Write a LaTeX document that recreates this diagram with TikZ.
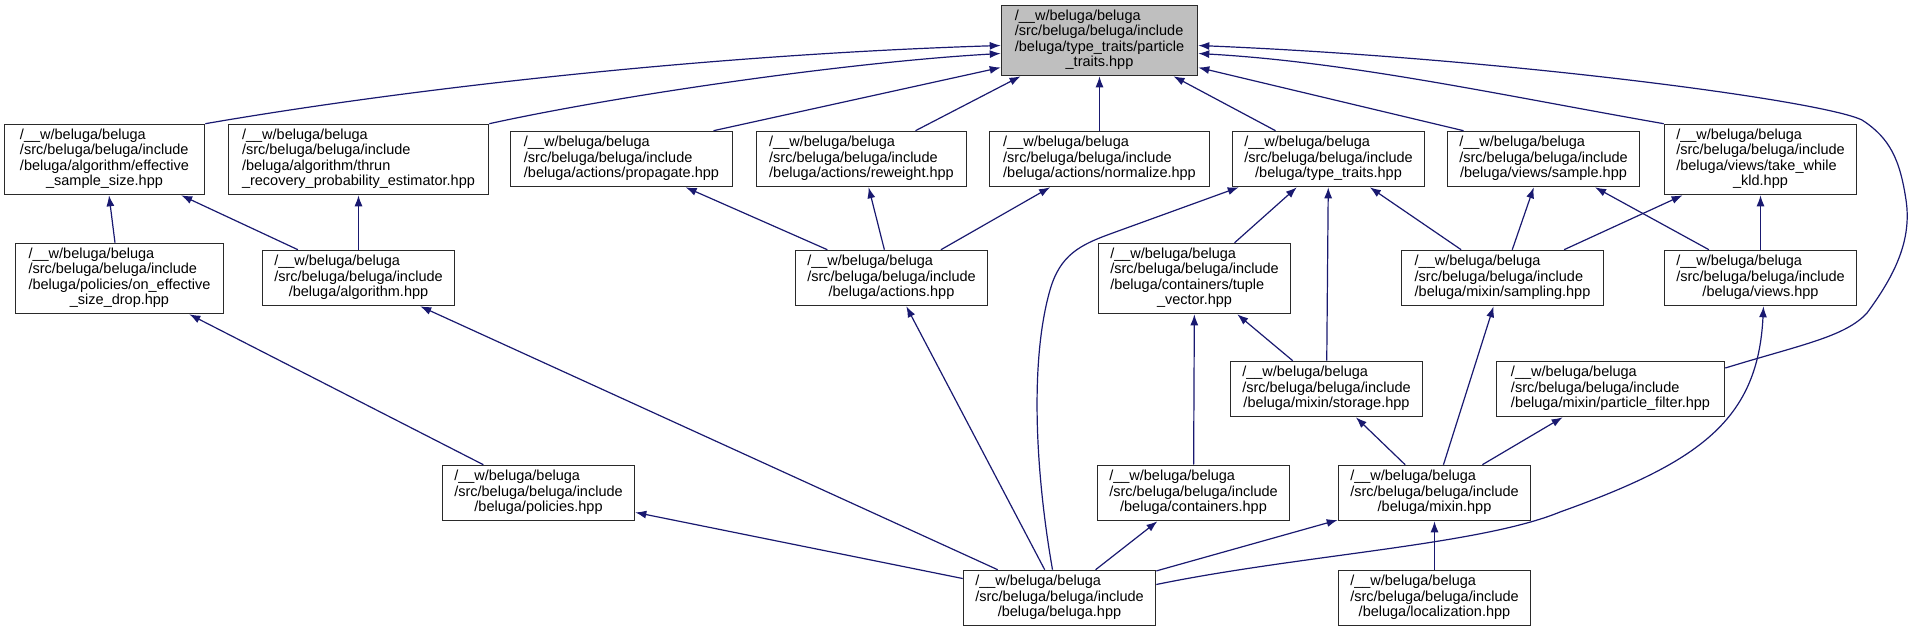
\documentclass[tikz,border=0pt]{standalone}
\usepackage{fontspec}
\setmainfont{Liberation Sans}
\usetikzlibrary{arrows.meta}
\definecolor{edgec}{HTML}{191970}
\definecolor{boxc}{HTML}{2A2A2A}
\definecolor{rootfill}{HTML}{BFBFBF}
\newcommand{\nodefont}{\fontsize{14.5}{15.5}\selectfont}
\newcommand{\ThreeL}[3]{\begin{tabular}{@{}l@{}}#1\\#2\\\multicolumn{1}{@{}c@{}}{#3}\end{tabular}}
\newcommand{\FourL}[4]{\begin{tabular}{@{}l@{}}#1\\#2\\#3\\\multicolumn{1}{@{}c@{}}{#4}\end{tabular}}
\newcommand{\Wb}{/\_\_w/beluga/beluga}
\newcommand{\Sb}{/src/beluga/beluga/include}
\begin{document}
\begin{tikzpicture}[x=1pt,y=-1pt,
  box/.style={draw=boxc, line width=1.6pt, fill=white, inner sep=0pt, minimum height=55pt, font=\nodefont},
  box4/.style={box, minimum height=70pt},
  edge/.style={draw=edgec, line width=1.2pt, -{Latex[length=11pt,width=8pt]}}]
\useasboundingbox (0,0) rectangle (1914,631);
% rank 0
\node[box4, fill=rootfill, minimum width=196pt] (root) at (1099.5,40.5) {\FourL{\Wb}{\Sb}{/beluga/type\_traits/particle}{\_traits.hpp}};
% rank 1
\node[box4, minimum width=200pt] (eff) at (104.5,159.5) {\FourL{\Wb}{\Sb}{/beluga/algorithm/effective}{\_sample\_size.hpp}};
\node[box4, minimum width=260pt] (thrun) at (358.5,159.5) {\FourL{\Wb}{\Sb}{/beluga/algorithm/thrun}{\_recovery\_probability\_estimator.hpp}};
\node[box, minimum width=222pt] (propagate) at (621.5,159) {\ThreeL{\Wb}{\Sb}{/beluga/actions/propagate.hpp}};
\node[box, minimum width=210pt] (reweight) at (861.5,159) {\ThreeL{\Wb}{\Sb}{/beluga/actions/reweight.hpp}};
\node[box, minimum width=220pt] (normalize) at (1099.5,159) {\ThreeL{\Wb}{\Sb}{/beluga/actions/normalize.hpp}};
\node[box, minimum width=192pt] (typetraits) at (1328.5,159) {\ThreeL{\Wb}{\Sb}{/beluga/type\_traits.hpp}};
\node[box, minimum width=192pt] (sample) at (1543.5,159) {\ThreeL{\Wb}{\Sb}{/beluga/views/sample.hpp}};
\node[box4, minimum width=192pt] (takewhile) at (1760.5,159.5) {\FourL{\Wb}{\Sb}{/beluga/views/take\_while}{\_kld.hpp}};
% rank 2
\node[box4, minimum width=208pt] (oneff) at (119.5,278.5) {\FourL{\Wb}{\Sb}{/beluga/policies/on\_effective}{\_size\_drop.hpp}};
\node[box, minimum width=192pt] (algorithm) at (358.5,278) {\ThreeL{\Wb}{\Sb}{/beluga/algorithm.hpp}};
\node[box, minimum width=192pt] (actions) at (891.5,278) {\ThreeL{\Wb}{\Sb}{/beluga/actions.hpp}};
\node[box4, minimum width=192pt] (tuplevec) at (1194.5,278.5) {\FourL{\Wb}{\Sb}{/beluga/containers/tuple}{\_vector.hpp}};
\node[box, minimum width=202pt] (sampling) at (1502.5,278) {\ThreeL{\Wb}{\Sb}{/beluga/mixin/sampling.hpp}};
\node[box, minimum width=192pt] (views) at (1760.5,278) {\ThreeL{\Wb}{\Sb}{/beluga/views.hpp}};
% rank 3
\node[box, minimum width=192pt] (storage) at (1326.5,389) {\ThreeL{\Wb}{\Sb}{/beluga/mixin/storage.hpp}};
\node[box, minimum width=228pt] (pfilter) at (1610.5,389) {\ThreeL{\Wb}{\Sb}{/beluga/mixin/particle\_filter.hpp}};
% rank 4
\node[box, minimum width=192pt] (policies) at (538.5,493) {\ThreeL{\Wb}{\Sb}{/beluga/policies.hpp}};
\node[box, minimum width=192pt] (containers) at (1193.5,493) {\ThreeL{\Wb}{\Sb}{/beluga/containers.hpp}};
\node[box, minimum width=192pt] (mixin) at (1434.5,493) {\ThreeL{\Wb}{\Sb}{/beluga/mixin.hpp}};
% rank 5
\node[box, minimum width=192pt] (beluga) at (1059.5,598) {\ThreeL{\Wb}{\Sb}{/beluga/beluga.hpp}};
\node[box, minimum width=192pt] (localization) at (1434.5,598) {\ThreeL{\Wb}{\Sb}{/beluga/localization.hpp}};
% edges into root
\draw[edge] (eff.north east) .. controls (400,90) and (700,55) .. ([yshift=-5pt]root.west);
\draw[edge] (thrun.north east) .. controls (620,95) and (850,62) .. ([yshift=-13pt]root.west);
\draw[edge] ([xshift=92pt]propagate.north) -- ([yshift=-27pt]root.west);
\draw[edge] ([xshift=54pt]reweight.north) -- ([xshift=-79pt]root.south);
\draw[edge] (normalize) -- (root);
\draw[edge] ([xshift=-53pt]typetraits.north) -- ([xshift=74pt]root.south);
\draw[edge] ([xshift=-80pt]sample.north) -- ([yshift=-27pt]root.east);
\draw[edge] (takewhile.north west) .. controls (1500,95) and (1350,62) .. ([yshift=-13pt]root.east);
\draw[edge] ([yshift=21pt]pfilter.east) .. controls (1800,345) and (1845,337) .. (1867,313) .. controls (1895,275) and (1912,240) .. (1906,200) .. controls (1900,160) and (1890,138) .. (1862,120) .. controls (1820,100) and (1500,58) .. ([yshift=-5pt]root.east);
% rank 2 -> rank 1
\draw[edge] (oneff) -- (eff);
\draw[edge] (algorithm) -- (eff);
\draw[edge] (algorithm) -- (thrun);
\draw[edge] (actions) -- (propagate);
\draw[edge] (actions) -- (reweight);
\draw[edge] (actions) -- (normalize);
\draw[edge] (tuplevec) -- (typetraits);
\draw[edge] (storage) -- (typetraits);
\draw[edge] (sampling) -- (typetraits);
\draw[edge] (sampling) -- (sample);
\draw[edge] (views) -- (sample);
\draw[edge] (sampling) -- (takewhile);
\draw[edge] (views) -- (takewhile);
\draw[edge] ([xshift=-7pt]beluga.north) .. controls (1035,470) and (1030,360) .. (1050,290) .. controls (1060,255) and (1080,245) .. (1110,234) -- ([xshift=7pt]typetraits.south west);
% lower ranks
\draw[edge] (policies) -- (oneff);
\draw[edge] (beluga) -- (algorithm);
\draw[edge] (beluga) -- (actions);
\draw[edge] (storage) -- (tuplevec);
\draw[edge] (containers) -- (tuplevec);
\draw[edge] (mixin) -- (sampling);
\draw[edge] (mixin) -- (storage);
\draw[edge] (mixin) -- (pfilter);
\draw[edge] ([yshift=13.5pt]beluga.east) .. controls (1300,555) and (1480,545) .. (1560,512) .. controls (1700,462) and (1758,420) .. ([xshift=3pt]views.south);
\draw[edge] (beluga) -- (policies);
\draw[edge] (beluga) -- (containers);
\draw[edge] (beluga) -- (mixin);
\draw[edge] (localization) -- (mixin);
\end{tikzpicture}
\end{document}
